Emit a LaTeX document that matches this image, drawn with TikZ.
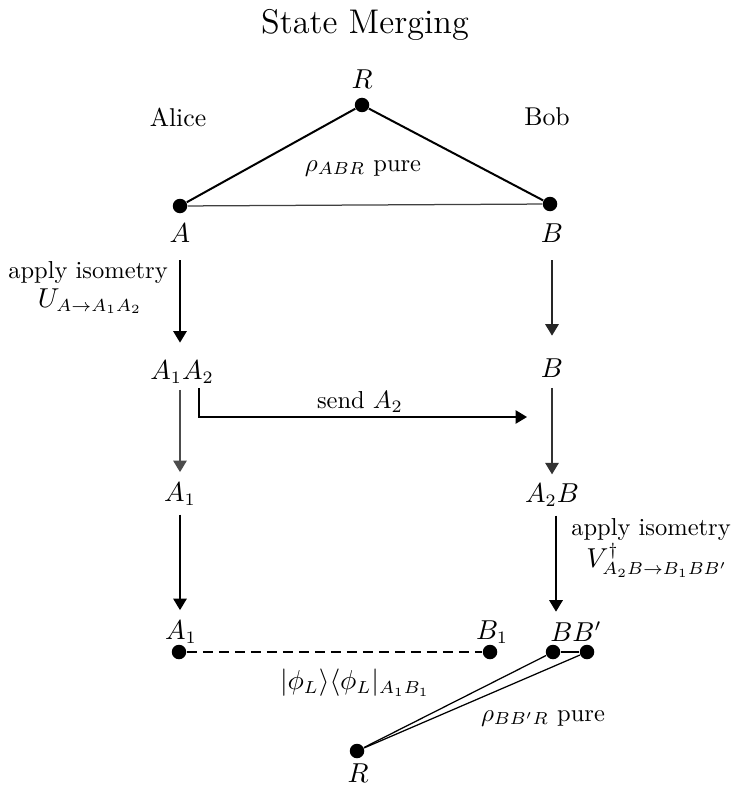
\documentclass[tikz,border=0pt]{standalone}
\usetikzlibrary{arrows.meta}
\begin{document}
\begin{tikzpicture}[x=0.4pt,y=-0.4pt,
  dot/.style={circle,fill=black,inner sep=0pt,minimum size=5.8pt},
  lbl/.style={inner sep=0pt,font=\fontsize{10.5}{12}\selectfont},
  txt/.style={inner sep=0pt,font=\fontsize{9.8}{12}\selectfont},
  flow/.style={-{Triangle[length=4.6pt,width=5.4pt]},line width=0.6pt},
  bond/.style={line width=0.8pt},
  thinbond/.style={line width=0.5pt}]
\useasboundingbox (0,0) rectangle (732,786);

% title
\node[inner sep=0pt,font=\fontsize{13.7}{16}\selectfont] (title) at (365,25) {State Merging};

% initial tripartite state
\node[dot] (dR) at (362,105) {};
\node[dot] (dA) at (180,206) {};
\node[dot] (dB) at (550,204) {};
\draw[bond] (dR) -- (dA);
\draw[bond] (dR) -- (dB);
\draw[thinbond,black!75] (dA) -- (dB);
\node[lbl] (R) at (362,79) {$R$};
\node[txt,font=\fontsize{10.3}{12}\selectfont] (alice) at (178,117) {Alice};
\node[txt,font=\fontsize{10.3}{12}\selectfont] (bob) at (547,117) {Bob};
\node[txt] (rhoABR) at (363,168) {$\rho_{ABR}$ pure};
\node[lbl] (A) at (180,233) {$A$};
\node[lbl] (B) at (552,233) {$B$};

% second row
\node[lbl] (A1A2) at (182,372) {$A_1A_2$};
\node[lbl] (B2) at (552,368) {$B$};
\node[txt] (isoA) at (88,273) {apply isometry};
\node[lbl] (U) at (90,301) {$U_{A\to A_1A_2}$};
\draw[flow,shorten <=7pt,shorten >=7pt] (A.south) -- (A.south |- A1A2.north);
\draw[flow,black!85,shorten <=7pt,shorten >=9pt] (B.south) -- (B.south |- B2.north);

% sending A2
\coordinate (sendstart) at (199,388);
\coordinate (sendend) at (527,417);
\draw[flow] (sendstart) |- (sendend);
\node[txt] (send) at (360,402) {send $A_2$};

% third row
\node[lbl] (A1) at (180,494) {$A_1$};
\node[lbl] (A2B) at (552,495) {$A_2B$};
\draw[flow,black!70,shorten <=2.4pt,shorten >=4pt] (A1A2.south -| A1.north) -- (A1.north);
\draw[flow,black!80,shorten <=4pt,shorten >=3.5pt] (B2.south) -- (B2.south |- A2B.north);

% fourth row
\node[lbl] (A1b) at (181,632) {$A_1$};
\node[lbl] (B1) at (492,632) {$B_1$};
\node[lbl] (BBp) at (576,632) {$BB'$};
\draw[flow,shorten <=3.5pt,shorten >=4pt] (A1.south) -- (A1.south |- A1b.north);
\draw[flow,shorten <=3.5pt,shorten >=4pt] ([xshift=1.6pt]A2B.south) -- ([xshift=1.6pt]A2B.south |- BBp.north);
\node[txt] (isoB) at (651,530) {apply isometry};
\node[lbl] (V) at (657,560) {$V^{\dagger}_{A_2B\to B_1BB'}$};

% final state
\node[dot] (dA1) at (179,652) {};
\node[dot] (dB1) at (490,652) {};
\node[dot] (dBB) at (553,652) {};
\node[dot] (dBp) at (587,652) {};
\node[dot] (dR2) at (357,751) {};
\draw[thinbond,dash pattern=on 4pt off 2.4pt] (dA1) -- (dB1);
\draw[thinbond] (dR2) -- (dBB);
\draw[thinbond] (dR2) -- (dBp);
\draw[thinbond] (dBB) -- (dBp);
\node[lbl] (phi) at (355,683) {$|\phi_L\rangle\langle\phi_L|_{A_1B_1}$};
\node[txt] (rhoBBR) at (543,718) {$\rho_{BB'R}$ pure};
\node[lbl] (R2) at (358,773) {$R$};
\end{tikzpicture}
\end{document}
